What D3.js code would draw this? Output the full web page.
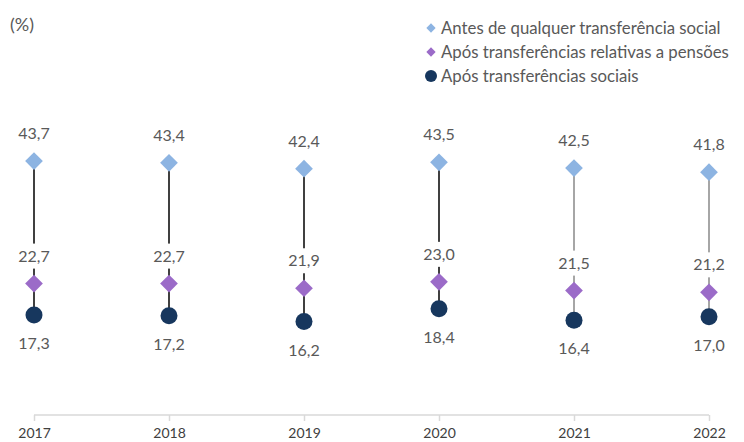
<!DOCTYPE html>
<html lang="pt">
<head>
<meta charset="UTF-8">
<title>Taxa de risco de pobreza</title>
<script src="https://d3js.org/d3.v7.min.js"></script>
<style>
  body { margin: 0; background: #fff; }
  text { font-family: Lato, "Open Sans", sans-serif; }
</style>
</head>
<body>
<script>

const years = ['2017', '2018', '2019', '2020', '2021', '2022'];
const antes = [43.7, 43.4, 42.4, 43.5, 42.5, 41.8];
const pensoes = [22.7, 22.7, 21.9, 23.0, 21.5, 21.2];
const sociais = [17.3, 17.2, 16.2, 18.4, 16.4, 17.0];
const seriesNames = ['Antes de qualquer transferência social', 'Após transferências relativas a pensões', 'Após transferências sociais'];

const width = 744, height = 442;
const colors = ['#8db4e2', '#9b6bc8', '#17375e'];
const fmt = v => d3.format('.1f')(v).replace('.', ',');

const svg = d3.select('body').append('svg').attr('width', width).attr('height', height);

const x = d3.scalePoint().domain(years).range([34, 709]);
const y = d3.scaleLinear().domain([0, 70]).range([416, 7.7]);

// eixo
const axis = svg.append('g').attr('transform', 'translate(0,415)')
  .call(d3.axisBottom(x).tickSize(6).tickPadding(7));
axis.select('.domain').attr('stroke', '#d9d9d9').attr('stroke-width', 1.5).attr('d', 'M34,0H709');
axis.selectAll('.tick line').attr('stroke', '#d9d9d9').attr('stroke-width', 1.5);
axis.selectAll('.tick text').attr('font-size', 14).attr('fill', '#404040').attr('font-family', 'Lato, sans-serif');

const data = years.map((yr, i) => ({ yr, a: antes[i], p: pensoes[i], s: sociais[i], i }));

const g = svg.selectAll('.yr').data(data).enter().append('g').attr('class', 'yr');

// linhas verticais
g.append('line')
  .attr('x1', d => x(d.yr)).attr('x2', d => x(d.yr))
  .attr('y1', d => y(d.a)).attr('y2', d => y(d.s))
  .attr('stroke', d => d.i < 4 ? '#404040' : '#a6a6a6')
  .attr('stroke-width', 2);

const diamond = d3.symbol().type(d3.symbolDiamond2).size(200);

// rótulos do meio com fundo branco
g.append('rect')
  .attr('x', d => x(d.yr) - 19).attr('y', d => y(d.p) - 40)
  .attr('width', 38).attr('height', 25).attr('fill', '#fff');

g.append('path').attr('d', diamond)
  .attr('transform', d => `translate(${x(d.yr)},${y(d.a)})`).attr('fill', colors[0]);
g.append('path').attr('d', diamond)
  .attr('transform', d => `translate(${x(d.yr)},${y(d.p)})`).attr('fill', colors[1]);
g.append('circle').attr('cx', d => x(d.yr)).attr('cy', d => y(d.s)).attr('r', 8.5).attr('fill', colors[2]);

const lab = (sel, acc, dy) => sel.append('text')
  .attr('x', d => x(d.yr)).attr('y', d => y(acc(d)) + dy)
  .attr('text-anchor', 'middle').attr('font-size', 16).attr('fill', '#595959')
  .text(d => fmt(acc(d)));
lab(g, d => d.a, -22);
lab(g, d => d.p, -22);
lab(g, d => d.s, 34);

// título
svg.append('text').attr('x', 10).attr('y', 31).attr('font-size', 18).attr('fill', '#595959').text('(%)');

// legenda
const leg = svg.append('g').selectAll('g').data(seriesNames).enter().append('g')
  .attr('transform', (d, i) => `translate(431,${28 + i * 24})`);
leg.filter((d, i) => i < 2).append('path')
  .attr('d', d3.symbol().type(d3.symbolDiamond2).size(55))
  .attr('fill', (d, i) => colors[i]);
leg.filter((d, i) => i === 2).append('circle').attr('r', 6).attr('fill', colors[2]);
leg.append('text').attr('x', 10).attr('y', 6).attr('font-size', 16.8).attr('fill', '#595959').text(d => d);

</script>
</body>
</html>
